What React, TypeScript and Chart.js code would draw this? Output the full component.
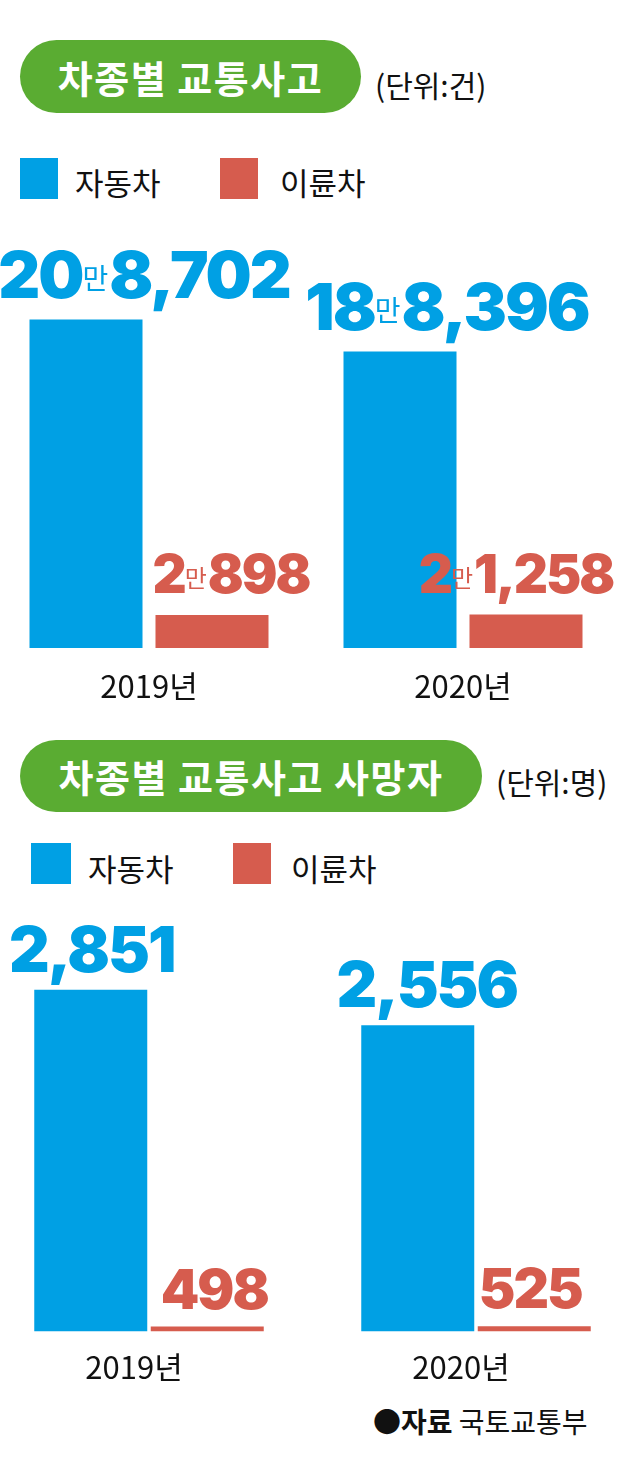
import React, { useEffect, useRef } from "react";
import { Chart, registerables } from "chart.js";
Chart.register(...registerables);

// ---- data ----
const years = ["2019년", "2020년"];
const accidentsCar = [208702, 188396];
const accidentsBike = [20898, 21258];
const deathsCar = [2851, 2556];
const deathsBike = [498, 525];
const seriesNames = ["자동차", "이륜차"];

const BLUE = "#00A0E4";
const RED = "#D65C4E";
const GREEN = "#5AAC32";
const KR = '"Noto Sans CJK KR", "Noto Sans", sans-serif';
const NUM = 'Inter, Roboto, "DejaVu Sans", sans-serif';

const valueLabels = {
  id: "valueLabels",
  afterDatasetsDraw(chart: any, _args: any, opts: any) {
    const ctx = chart.ctx;
    ctx.save();
    chart.data.datasets.forEach((ds: any, di: number) => {
      const meta = chart.getDatasetMeta(di);
      const cfg = opts.series[di];
      meta.data.forEach((bar: any, i: number) => {
        const v = ds.data[i];
        const parts =
          opts.man && v >= 10000
            ? [
                { t: String(Math.floor(v / 10000)), big: true },
                { t: "만", big: false },
                { t: (v % 10000).toLocaleString("en-US"), big: true },
              ]
            : [{ t: v.toLocaleString("en-US"), big: true }];
        const bigFont = `900 ${cfg.size}px ${NUM}`;
        const smallFont = `400 ${cfg.manSize}px ${KR}`;
        const widths = parts.map((p) => {
          ctx.font = p.big ? bigFont : smallFont;
          (ctx as any).letterSpacing = p.big ? `${cfg.ls}px` : "0px";
          return ctx.measureText(p.t).width + (p.big ? 0 : 1);
        });
        const total = widths.reduce((a, b) => a + b, 0);
        const baseline = bar.y - opts.gap;
        let x = bar.x + cfg.dx[i] - total / 2;
        ctx.fillStyle = cfg.color;
        ctx.textAlign = "left";
        parts.forEach((p, k) => {
          if (p.big) {
            ctx.font = bigFont;
            (ctx as any).letterSpacing = `${cfg.ls}px`;
            ctx.textBaseline = "alphabetic";
            ctx.fillText(p.t, x, baseline);
          } else {
            ctx.font = smallFont;
            (ctx as any).letterSpacing = "0px";
            ctx.textBaseline = "middle";
            ctx.fillText(p.t, x, baseline - cfg.size * 0.36 + 4);
          }
          x += widths[k];
        });
      });
    });
    ctx.restore();
  },
};

type ChartProps = {
  left: number;
  top: number;
  width: number;
  height: number;
  car: number[];
  bike: number[];
  config: any;
};

function BarChart({ left, top, width, height, car, bike, config }: ChartProps) {
  const ref = useRef<HTMLCanvasElement | null>(null);
  useEffect(() => {
    if (!ref.current) return;
    const chart = new Chart(ref.current, {
      type: "bar",
      data: {
        labels: years,
        datasets: [
          {
            label: seriesNames[0],
            data: car,
            backgroundColor: BLUE,
            categoryPercentage: config.catPct,
            barPercentage: config.barPct,
            yAxisID: "y",
          },
          {
            label: seriesNames[1],
            data: bike,
            backgroundColor: RED,
            categoryPercentage: config.catPct,
            barPercentage: config.barPct,
            yAxisID: config.bikeAxis,
          },
        ],
      },
      options: {
        animation: false,
        responsive: false,
        maintainAspectRatio: false,
        layout: { padding: config.padding },
        plugins: {
          legend: { display: false },
          tooltip: { enabled: false },
          valueLabels: config.labels,
        } as any,
        scales: {
          x: {
            grid: { display: false },
            border: { display: false },
            ticks: {
              font: { family: KR, size: 31 },
              color: "#111",
              padding: config.tickPad,
              labelOffset: config.labelOffset,
            },
          },
          y: { display: false, min: 0, max: config.yMax },
          y2: { display: false, min: 0, max: config.y2Max },
        },
      },
      plugins: [valueLabels as any],
    });
    return () => chart.destroy();
  }, []);
  return (
    <canvas
      ref={ref}
      width={width}
      height={height}
      style={{ position: "absolute", left, top, width, height }}
    />
  );
}

function Pill({ left, top, width, height, text }: any) {
  return (
    <div
      style={{
        position: "absolute",
        left,
        top,
        width,
        height,
        borderRadius: height / 2,
        background: GREEN,
        color: "#fff",
        fontFamily: KR,
        fontWeight: 700,
        fontSize: 38,
        letterSpacing: 1.5,
        display: "flex",
        alignItems: "center",
        justifyContent: "center",
        lineHeight: 1,
      }}
    >
      {text}
    </div>
  );
}

function Txt({ left, top, size, children, weight = 400 }: any) {
  return (
    <div
      style={{
        position: "absolute",
        left,
        top,
        fontFamily: KR,
        fontSize: size,
        fontWeight: weight,
        lineHeight: 1,
        color: "#111",
        whiteSpace: "nowrap",
      }}
    >
      {children}
    </div>
  );
}

function Sq({ left, top, w, h, color }: any) {
  return <div style={{ position: "absolute", left, top, width: w, height: h, background: color }} />;
}

export default function App() {
  const chart1 = {
    catPct: 0.8025,
    barPct: 0.897,
    bikeAxis: "y",
    padding: { left: 0, right: 16, top: 10, bottom: 7 },
    tickPad: 11.4,
    labelOffset: 0,
    yMax: 272000,
    y2Max: 272000,
    labels: {
      man: true,
      gap: 22,
      series: [
        { color: BLUE, size: 65, manSize: 28, ls: -2, dx: [58, 47] },
        { color: RED, size: 53, manSize: 24, ls: -2, dx: [19, -10] },
      ],
    },
  };
  const chart2 = {
    catPct: 0.7125,
    barPct: 0.97,
    bikeAxis: "y2",
    padding: { left: 1.5, right: 0.5, top: 10, bottom: 6.5 },
    tickPad: 8.9,
    labelOffset: -15,
    yMax: 3600,
    y2Max: 43000,
    labels: {
      man: false,
      gap: 18,
      series: [
        { color: BLUE, size: 63, manSize: 26, ls: -2, dx: [1, 9] },
        { color: RED, size: 55, manSize: 24, ls: -2, dx: [7, -4] },
      ],
    },
  };
  return (
    <div
      style={{
        position: "absolute",
        left: 0,
        top: 0,
        width: 636,
        height: 1469,
        overflow: "hidden",
        background: "#fff",
      }}
    >
      <Pill left={20} top={40} width={341} height={73} text="차종별 교통사고" />
      <Txt left={375} top={69} size={30}>(단위:건)</Txt>
      <Sq left={20} top={158} w={38} h={41} color={BLUE} />
      <Txt left={75} top={166} size={31}>{seriesNames[0]}</Txt>
      <Sq left={220} top={158} w={38} h={41} color={RED} />
      <Txt left={280} top={166} size={31}>{seriesNames[1]}</Txt>
      <BarChart left={-8} top={210} width={644} height={513} car={accidentsCar} bike={accidentsBike} config={chart1} />

      <Pill left={20} top={740} width={462} height={72} text="차종별 교통사고 사망자" />
      <Txt left={496} top={766} size={30}>(단위:명)</Txt>
      <Sq left={31} top={843} w={40} h={41} color={BLUE} />
      <Txt left={88} top={852} size={31}>{seriesNames[0]}</Txt>
      <Sq left={233} top={843} w={38} h={41} color={RED} />
      <Txt left={291} top={852} size={31}>{seriesNames[1]}</Txt>
      <BarChart left={-16} top={890} width={656} height={511} car={deathsCar} bike={deathsBike} config={chart2} />

      <Txt left={373} top={1407} size={28}>
        <span style={{ fontWeight: 700 }}>●자료</span> 국토교통부
      </Txt>
    </div>
  );
}
